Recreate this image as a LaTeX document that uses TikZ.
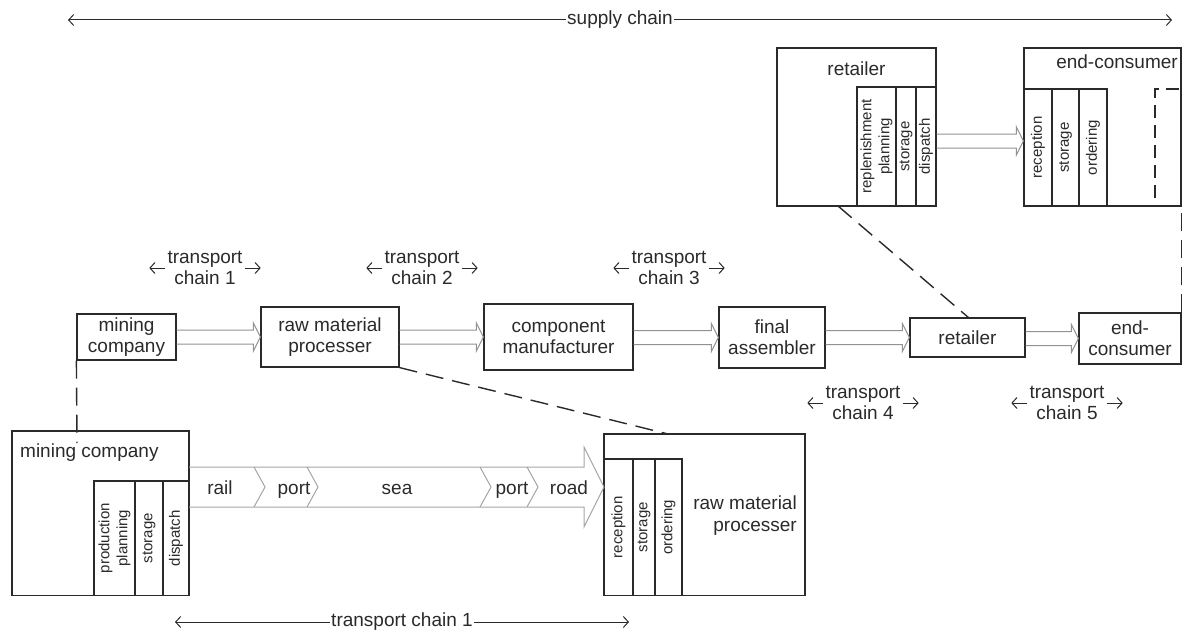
\documentclass[tikz,border=0pt]{standalone}
\usepackage{fontspec}
\setmainfont{Liberation Sans}
\usetikzlibrary{arrows.meta,calc}
\definecolor{ink}{HTML}{2A2A2A}
\definecolor{flowgray}{HTML}{929292}
\definecolor{pipegray}{HTML}{A4A4A4}
\begin{document}
\begin{tikzpicture}[x=1pt,y=-1pt,
  txt/.style={font=\fontsize{19}{21}\selectfont, text=ink, align=center, inner sep=0pt},
  box/.style={txt, draw=ink, line width=1.2pt},
  col/.style={draw=ink, line width=1.2pt, inner sep=0pt, rotate=90, align=center,
    text=ink, font=\fontsize{15}{18}\selectfont},
  link/.style={draw=ink, line width=1.4pt, dash pattern=on 18pt off 9pt},
  hollow/.style n args={3}{to path={let \p1=(\tikztostart), \p2=(\tikztotarget) in
    (\x1,\y2+#1) -- (\x2-#3,\y2+#1) -- (\x2-#3,\y2+#2) -- (\x2,\y2)
    -- (\x2-#3,\y2-#2) -- (\x2-#3,\y2-#1) -- (\x1,\y2-#1)}},
  flow/.style={draw=flowgray, line width=1pt, hollow={7pt}{14pt}{7pt}},
  pipe/.style={draw=pipegray, line width=1pt, hollow={20pt}{40pt}{20pt}},
  chev/.tip={Straight Barb[length=5pt,width=11pt]},
  span/.style={draw=ink, line width=1pt, chev-chev},
  half/.style={draw=ink, line width=1pt, -chev},
  chain/.style={txt, inner sep=2pt},
  seg/.style={txt, anchor=base},
]
\useasboundingbox (0,0) rectangle (1182,634);

% overall supply chain span
\coordinate (scL) at (68,20);
\coordinate (scR) at (1172,20);
\draw[span] (scL) -- node[txt, fill=white, inner sep=1.5pt] (sc) {supply chain} (scR);

% retailer detail
\node[box, minimum width=159pt, minimum height=158pt] (rett) at (856.5,127) {};
\node[txt, anchor=base] (rettl) at (856.5,75) {retailer};
\node[col, minimum width=119pt, minimum height=39pt] (rett1) at (876.5,146.5) {replenishment\\planning};
\node[col, minimum width=119pt, minimum height=20pt] (rett2) at (906,146.5) {storage};
\node[col, minimum width=119pt, minimum height=20pt] (rett3) at (926,146.5) {dispatch};

% end-consumer detail
\node[box, minimum width=157pt, minimum height=158pt] (endt) at (1102.5,127) {};
\node[txt, anchor=base] (endtl) at (1117,68) {end-consumer};
\node[col, minimum width=117pt, minimum height=28pt] (endt1) at (1038,147.5) {reception};
\node[col, minimum width=117pt, minimum height=27pt] (endt2) at (1065.5,147.5) {storage};
\node[col, minimum width=117pt, minimum height=28pt] (endt3) at (1093,147.5) {ordering};
\draw[ink, line width=1.2pt, dash pattern=on 13pt off 7pt] (1155,198) -- (1155,89) -- (1182,89);
\draw[flow] ([yshift=-14pt]rett.east) to ([yshift=-14pt]endt.west);

% main chain
\node[box, minimum width=99pt, minimum height=46pt] (mc) at (126.5,337) {mining\\company};
\node[box, minimum width=138pt, minimum height=60pt] (rmp) at (330,337) {raw material\\processer};
\node[box, minimum width=149pt, minimum height=66pt] (cm) at (558.5,337) {component\\manufacturer};
\node[box, minimum width=106pt, minimum height=61pt] (fa) at (772,337.5) {final\\assembler};
\node[box, minimum width=115pt, minimum height=39pt] (rt) at (967.5,337.5) {retailer};
\node[box, minimum width=102pt, minimum height=51pt] (ec) at (1130,338.5) {end-\\consumer};
\draw[flow] (mc.east) to (rmp.west);
\draw[flow] (rmp.east) to (cm.west);
\draw[flow] (cm.east) to (fa.west);
\draw[flow] (fa.east) to (rt.west);
\draw[flow] (rt.east) to (ec.west);

% transport chain labels
\foreach \n/\cx/\cy in {1/205/268, 2/422/268, 3/669/268, 4/863/403, 5/1067/403}{
  \node[chain] (tc\n) at (\cx,\cy) {transport\\chain \n};
  \draw[half] (tc\n.west) -- ++(-16,0);
  \draw[half] (tc\n.east) -- ++(16,0);
}

% mining company detail
\node[box, minimum width=177pt, minimum height=164.5pt] (mcb) at (100.5,513.25) {};
\node[txt, anchor=base west] (mcbl) at (20,457) {mining company};
\node[col, minimum width=114.5pt, minimum height=41pt] (mcb1) at (114.5,538.25) {production\\planning};
\node[col, minimum width=114.5pt, minimum height=28pt] (mcb2) at (149,538.25) {storage};
\node[col, minimum width=114.5pt, minimum height=26pt] (mcb3) at (176,538.25) {dispatch};

% raw material processer detail
\node[box, minimum width=201pt, minimum height=161.5pt] (rmpb) at (704.5,514.75) {};
\node[txt, align=right, anchor=east, font=\fontsize{19}{22}\selectfont] (rmpbl) at (797,516) {raw material\\processer};
\node[col, minimum width=136.5pt, minimum height=29pt] (rmpb1) at (618.5,527.25) {reception};
\node[col, minimum width=136.5pt, minimum height=22pt] (rmpb2) at (644,527.25) {storage};
\node[col, minimum width=136.5pt, minimum height=27pt] (rmpb3) at (668.5,527.25) {ordering};

% transport chain 1 in detail
\coordinate (pipeA) at (189,487);
\coordinate (pipeB) at (604,487);
\draw[pipe] (pipeA) to (pipeB);
\foreach \cx in {254,307,480,527}
  \draw[pipegray, line width=1pt] (\cx,467) -- (\cx+11,487) -- (\cx,507);
\node[seg] (legRail) at (220,494) {rail};
\node[seg] (legPortA) at (294,494) {port};
\node[seg] (legSea) at (397,494) {sea};
\node[seg] (legPortB) at (512,494) {port};
\node[seg] (legRoad) at (569,494) {road};

\coordinate (btL) at (175,622);
\coordinate (btR) at (629,622);
\draw[span] (btL) -- node[txt, fill=white, inner sep=1.5pt] (bt) {transport chain 1} (btR);

% dashed zoom links
\coordinate (mcbTick) at (77,443);
\draw[link] (mc.south west) -- (mcbTick);
\coordinate (rmpbTop) at (668,434);
\draw[link] (rmp.south east) -- (rmpbTop);
\coordinate (rettFoot) at (838,206);
\coordinate (rtTop) at (969,318);
\draw[link] (rettFoot) -- (rtTop);
\draw[link] (ec.north east) -- (ec.north east |- endt.south);
\end{tikzpicture}
\end{document}
